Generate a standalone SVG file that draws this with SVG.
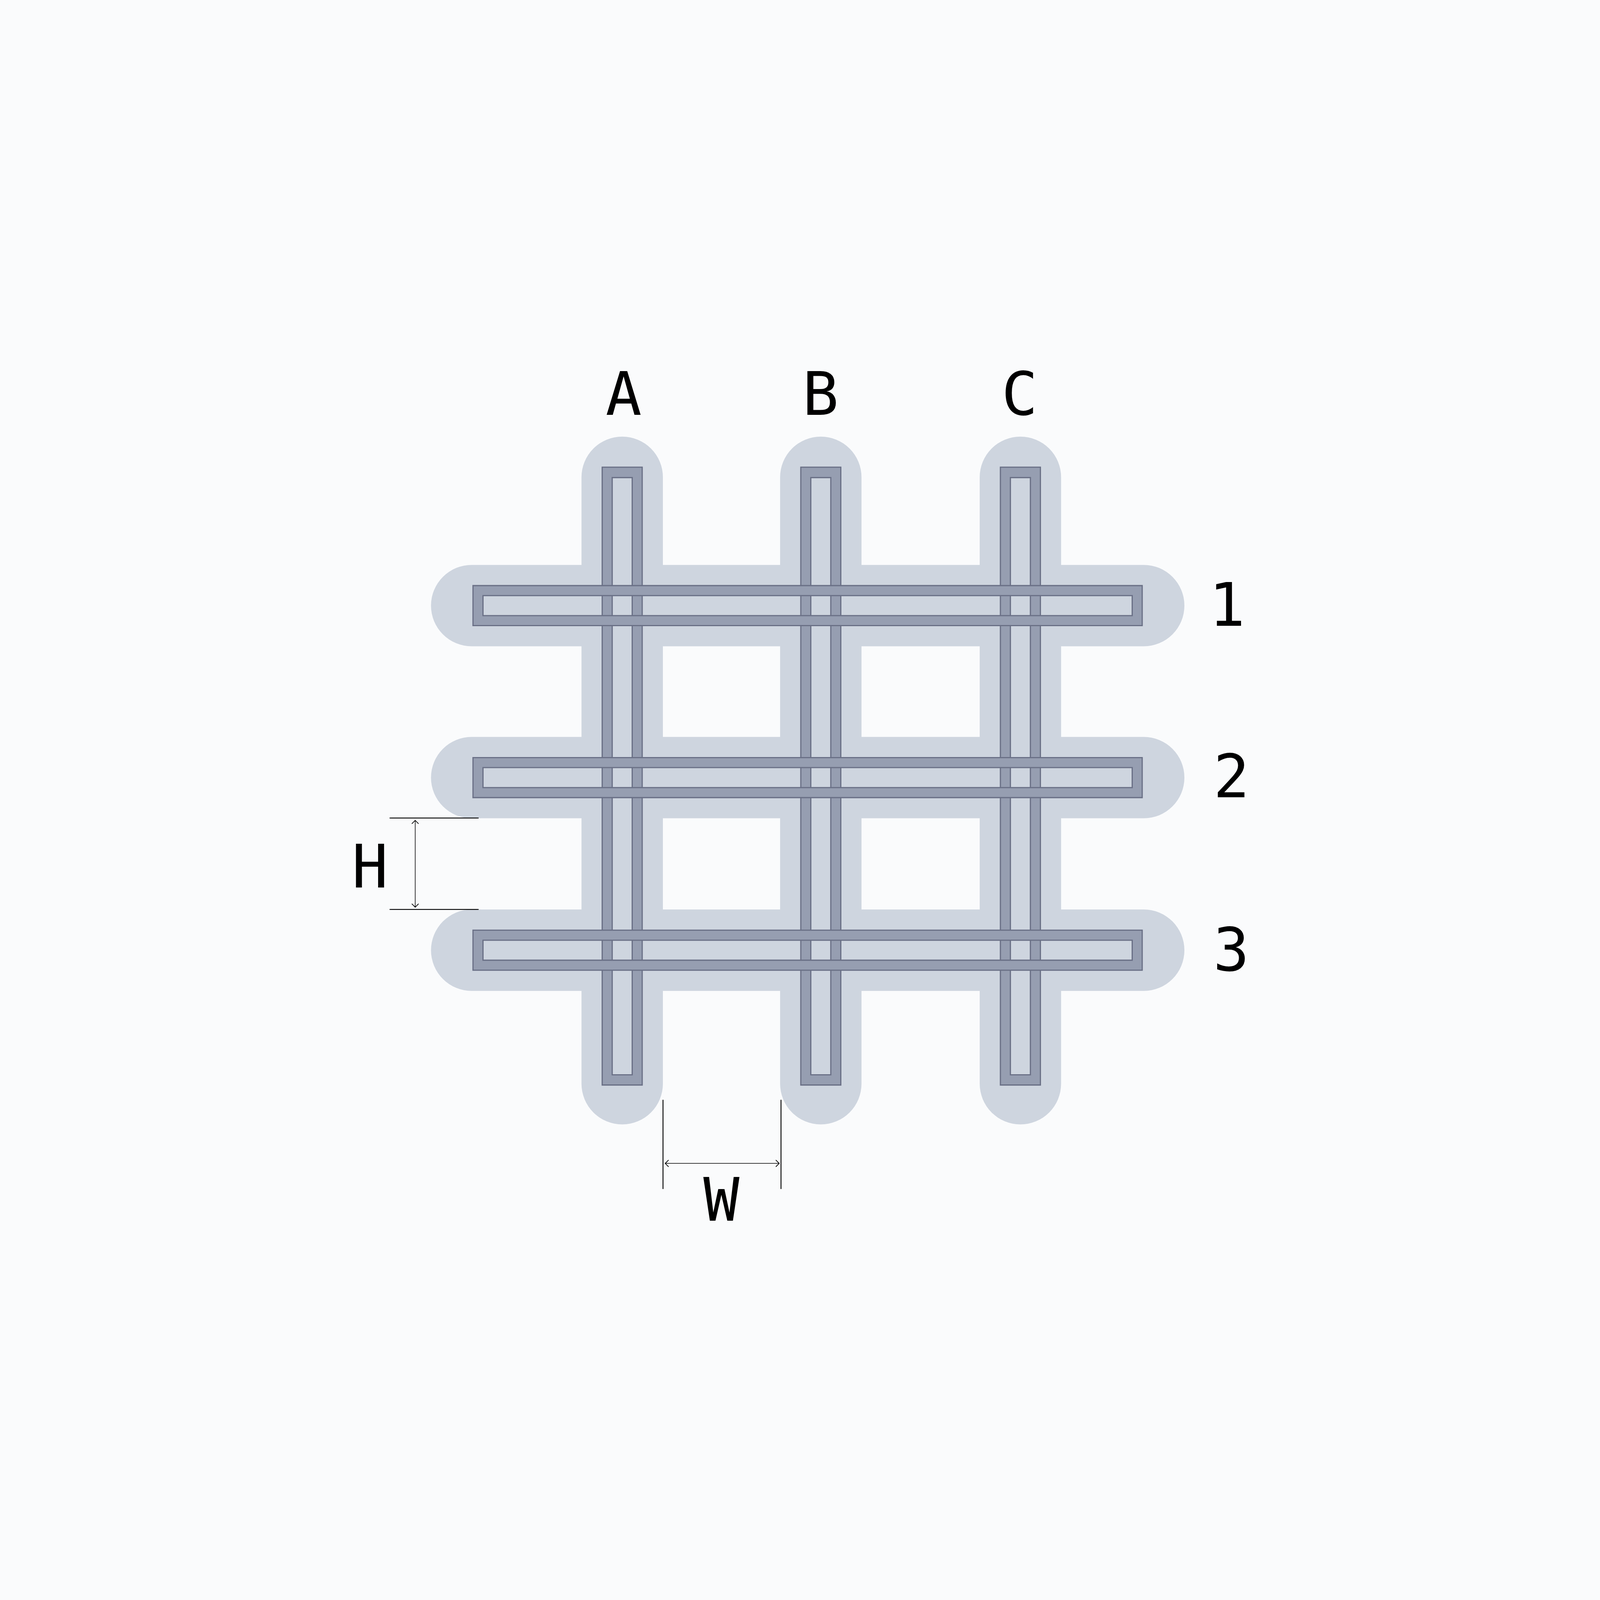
<svg xmlns="http://www.w3.org/2000/svg" width="8000" height="4500" viewBox="0 0 8000 4500">
<style>
svg{width:100vw;height:100vh;background:#FAFBFC}
.halo{fill:#CED5DF}
.bar{fill:#969EB1;stroke:#6A7086;stroke-width:6;fill-rule:evenodd}
.lbl{font-family:"DejaVu Sans Mono","Liberation Mono",monospace;font-size:300px;fill:#000;text-anchor:middle}
.ext{stroke:#000;stroke-width:4.5;fill:none}
.dim{stroke:#000;stroke-width:3;fill:none}
</style>
<defs>
<marker id="chev" markerUnits="userSpaceOnUse" markerWidth="44" markerHeight="44" viewBox="-22 -22 44 44" refX="0" refY="0" orient="auto-start-reverse">
<path d="M-17,-17 L0,0 L-17,17" fill="none" stroke="#000" stroke-width="3.5"/>
</marker>
</defs>
<rect x="0" y="0" width="8000" height="4500" fill="#FAFBFC"/>
<g id="halos">
<rect class="halo" x="2907.5" y="433" width="407" height="3439" rx="203.5"/>
<rect class="halo" x="3900.5" y="433" width="407" height="3439" rx="203.5"/>
<rect class="halo" x="4898.5" y="433" width="407" height="3439" rx="203.5"/>
<rect class="halo" x="2155" y="1074.5" width="3767" height="407" rx="203.5"/>
<rect class="halo" x="2155" y="1934.5" width="3767" height="407" rx="203.5"/>
<rect class="halo" x="2155" y="2797.5" width="3767" height="407" rx="203.5"/>
</g>
<g id="col-A">
<path class="bar" d="M3011 586H3211V3675H3011Z M3061 638H3161V3624H3061Z"/>
<text class="lbl" x="3118" y="325">A</text>
</g>
<g id="col-B">
<path class="bar" d="M4004 586H4204V3675H4004Z M4054 638H4154V3624H4054Z"/>
<text class="lbl" x="4103" y="325">B</text>
</g>
<g id="col-C">
<path class="bar" d="M5002 586H5202V3675H5002Z M5052 638H5152V3624H5052Z"/>
<text class="lbl" x="5098" y="325">C</text>
</g>
<g id="row-1">
<path class="bar" d="M2365 1178H5711V1378H2365Z M2415 1228H5661V1328H2415Z"/>
<text class="lbl" x="6135" y="1378">1</text>
</g>
<g id="row-2">
<path class="bar" d="M2365 2038H5711V2238H2365Z M2415 2088H5661V2188H2415Z"/>
<text class="lbl" x="6157" y="2237">2</text>
</g>
<g id="row-3">
<path class="bar" d="M2365 2901H5711V3101H2365Z M2415 2951H5661V3051H2415Z"/>
<text class="lbl" x="6156" y="3104">3</text>
</g>
<g id="connectors">
<line class="ext" x1="1948" y1="2340" x2="2393" y2="2340"/>
<line class="ext" x1="1948" y1="2797" x2="2393" y2="2797"/>
<line class="dim" x1="2076" y1="2352" x2="2076" y2="2786" marker-start="url(#chev)" marker-end="url(#chev)"/>
<line class="ext" x1="3315" y1="3749" x2="3315" y2="4195"/>
<line class="ext" x1="3905" y1="3749" x2="3905" y2="4195"/>
<line class="dim" x1="3326" y1="4067" x2="3896" y2="4067" marker-start="url(#chev)" marker-end="url(#chev)"/>
</g>
<g id="dimension-labels">
<text class="lbl" x="1850" y="2687">H</text>
<text class="lbl" x="3607" y="4354">W</text>
</g>
</svg>
